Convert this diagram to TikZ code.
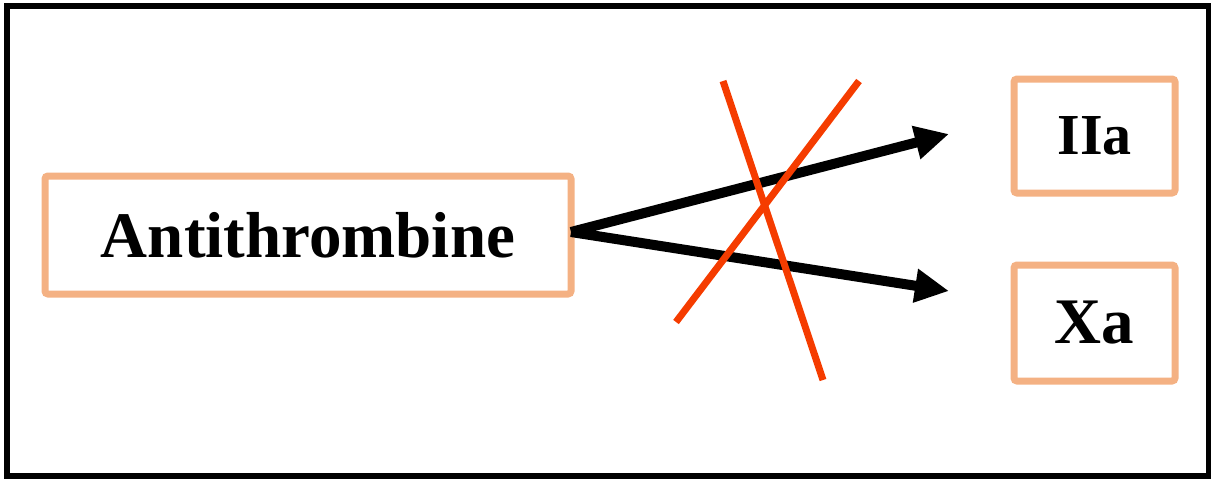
\documentclass[tikz,border=0pt]{standalone}
\usepackage{fontspec}
\setmainfont{Liberation Serif}
\usetikzlibrary{arrows.meta}
\definecolor{boxorange}{HTML}{F4B183}
\definecolor{crossred}{HTML}{F53C00}
\tikzset{
  factor/.style={draw=boxorange, line width=7pt, rounded corners=3pt, inner sep=0pt, outer sep=0pt,
    font=\bfseries\fontsize{65}{70}\selectfont},
  inhib/.style={line width=10pt, -{Triangle[length=34pt,width=32pt]}},
  cross/.style={draw=crossred, line width=7pt}
}
\begin{document}
\begin{tikzpicture}[x=1pt,y=-1pt]
    \useasboundingbox (0,0) rectangle (1211,479);
    \draw[line width=6pt] (7,6) rectangle (1209,476);

    \node[factor, minimum width=526pt, minimum height=118pt] (anti) at (308,235) {Antithrombine};
    \node[factor, minimum width=161pt, minimum height=114pt, font=\bfseries\fontsize{58}{62}\selectfont] (f2a) at (1094.5,136) {IIa};
    \node[factor, minimum width=161pt, minimum height=116pt] (f10a) at (1094.5,323) {Xa};

    \coordinate (t2a) at (949,134);
    \coordinate (t10a) at (949,291);
    \draw[inhib] ([yshift=3pt]anti.east) -- (t2a);
    \draw[inhib] ([yshift=3pt]anti.east) -- (t10a);

    \draw[cross] (723,81) -- (823,380);
    \draw[cross] (859,81) -- (676,322);
\end{tikzpicture}
\end{document}
